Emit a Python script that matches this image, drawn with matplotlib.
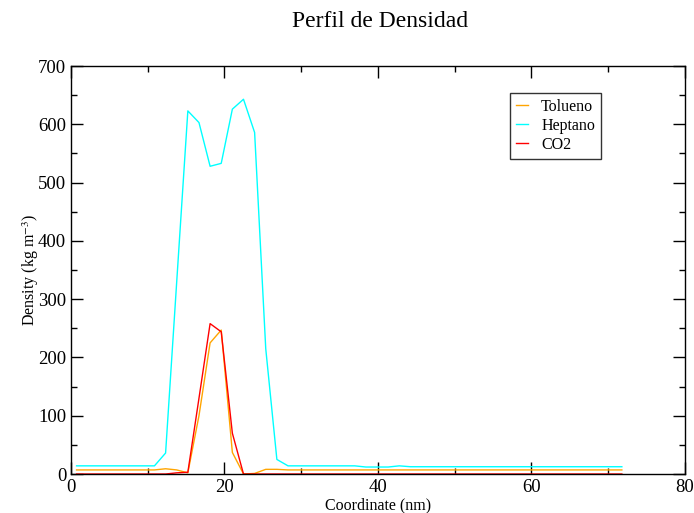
import numpy as np
import matplotlib
matplotlib.use('Agg')
import matplotlib.pyplot as plt
from matplotlib.ticker import MultipleLocator

# Perfil de densidad: 50 bins a lo largo de la caja (centros de bin en nm)
N_BINS = 50
BIN = 1.45
COORD = BIN / 2 + BIN * np.arange(N_BINS)

TOLUENO = [7, 7, 7, 7, 7, 7, 7, 7, 9, 7,
           2, 100, 225, 247, 37, 0, 1, 8, 8, 7,
           7, 7, 7, 7, 7, 7, 7, 7, 7, 7,
           7, 7, 7, 7, 7, 7, 7, 7, 7, 7,
           7, 7, 7, 7, 7, 7, 7, 7, 7, 7]
HEPTANO = [14, 14, 14, 14, 14, 14, 14, 14, 36, 330,
           623, 603, 528, 533, 626, 643, 586, 215, 25, 14,
           14, 14, 14, 14, 14, 14, 12, 12, 12, 14,
           12.5, 12.5, 12.5, 12.5, 12.5, 12.5, 12.5, 12.5, 12.5, 12.5,
           12.5, 12.5, 12.5, 12.5, 12.5, 12.5, 12.5, 12.5, 12.5, 12.5]
CO2 = [0, 0, 0, 0, 0, 0, 0, 0, 0, 2,
       3, 130, 258, 244, 70, 0, 0, 0, 0, 0,
       0, 0, 0, 0, 0, 0, 0, 0, 0, 0,
       0, 0, 0, 0, 0, 0, 0, 0, 0, 0,
       0, 0, 0, 0, 0, 0, 0, 0, 0, 0]

SERIES = [('Tolueno', TOLUENO, '#ffa500'),
          ('Heptano', HEPTANO, '#00ffff'),
          ('CO2', CO2, '#ff0000')]

plt.rcParams['font.family'] = ['Liberation Serif', 'DejaVu Serif']
plt.rcParams['mathtext.fontset'] = 'stix'

fig = plt.figure(figsize=(6.94, 5.13), dpi=100)
ax = fig.add_axes([0.1023, 0.076, 0.8847, 0.7953])

for name, vals, col in SERIES:
    ax.plot(COORD, vals, color=col, lw=1.0, label=name)

ax.set_xlim(0, 80)
ax.set_ylim(0, 700)
ax.xaxis.set_major_locator(MultipleLocator(20))
ax.xaxis.set_minor_locator(MultipleLocator(10))
ax.yaxis.set_major_locator(MultipleLocator(100))
ax.yaxis.set_minor_locator(MultipleLocator(50))
ax.tick_params(which='both', direction='in', top=True, right=True,
               labelsize=13.5, width=1.0, colors='black')
ax.tick_params(which='major', length=8.5)
ax.tick_params(which='minor', length=4.5)
for sp in ax.spines.values():
    sp.set_linewidth(1.0)

ax.set_xlabel('Coordinate (nm)', fontsize=11.5, labelpad=1)
ax.set_ylabel('Density (kg m$^{-3}$)', fontsize=11.5, labelpad=-2)
fig.suptitle('Perfil de Densidad', fontsize=17, x=0.547, y=0.979)

leg = ax.legend(loc='upper left', bbox_to_anchor=(510 / 694, 1 - 93 / 513),
                bbox_transform=fig.transFigure, fontsize=11.5, frameon=True,
                fancybox=False, shadow=False, handlelength=0.8,
                handletextpad=0.8, borderpad=0.35, labelspacing=0.2,
                borderaxespad=0)
leg.get_frame().set_edgecolor('black')
leg.get_frame().set_linewidth(1.0)

fig.savefig('out.png', dpi=100)
